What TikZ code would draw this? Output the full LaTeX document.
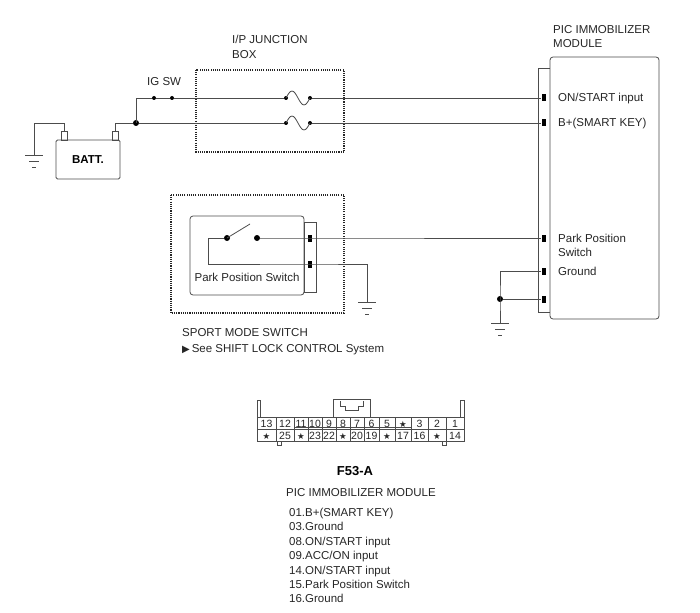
\documentclass[tikz,border=0pt]{standalone}
\usepackage{fontspec}
\setmainfont{Liberation Sans}
\newfontfamily\symfont{DejaVu Sans}
\usetikzlibrary{positioning}
\newcommand{\txtsz}{\fontsize{11.5}{14}\selectfont}
\newcommand{\cstar}{{\symfont\fontsize{8.5}{10}\selectfont ★}}

\tikzset{
  wire/.style={draw=black!70, line width=0.8pt},
  outl/.style={draw=black!70, line width=0.8pt},
  dotbox/.style={draw=black!85, line width=1.6pt, dash pattern=on 1.1pt off 1.1pt},
  term/.style={fill=black, inner sep=0pt, minimum width=4pt, minimum height=7pt},
  jdot/.style={circle, fill=black, inner sep=0pt, minimum size=6pt},
  sdot/.style={circle, fill=black, inner sep=0pt, minimum size=4pt},
  txt/.style={font=\txtsz, inner sep=0pt, anchor=base west, text=black!85},
  ctxt/.style={font=\txtsz, inner sep=0pt, anchor=base, text=black!85},
  cell/.style={font=\fontsize{10.5}{12}\selectfont, inner sep=0pt, anchor=base, text=black!85},
  earth/.pic={\draw[wire] (-9,0) -- (9,0) (-5,6) -- (5,6) (-2,12) -- (2,12);}
}

\begin{document}
\begin{tikzpicture}[x=1pt,y=-1pt]
\useasboundingbox (0,0) rectangle (700,612);

% battery
\draw[outl, rounded corners=1.5pt] (56,140) rectangle (120,179);
\draw[outl] (61,131) rectangle (67,140);
\draw[outl] (112,131) rectangle (118,140);
\node[font=\bfseries\txtsz, inner sep=0pt, anchor=base] (batt) at (88,164) {BATT.};
\coordinate (bneg) at (64,131);
\coordinate (bpos) at (115,131);
\coordinate (gc1) at (34,123);
\coordinate (gb) at (34,155);
\pic at (gb) {earth};
\draw[wire] (bneg) |- (gc1) -- (gb);

% I/P junction box
\draw[dotbox] (196,70) rectangle (344,152);
\node[txt] (jbox1) at (232,44) {I/P JUNCTION};
\node[txt] (jbox2) at (232,59) {BOX};
\node[txt] (igsw) at (147,86) {IG SW};
\node[jdot] (j1) at (136,123) {};
\node[sdot] (ig1) at (154,98) {};
\node[sdot] (ig2) at (172,98) {};
\node[sdot] (f1a) at (286,98) {};
\node[sdot] (f1b) at (310,98) {};
\node[sdot] (f2a) at (286,123) {};
\node[sdot] (f2b) at (310,123) {};
\draw[wire] (f1a.center) sin (292,91) cos (298,98) sin (304,105) cos (f1b.center);
\draw[wire] (f2a.center) sin (292,116) cos (298,123) sin (304,130) cos (f2b.center);

% PIC immobilizer module
\draw[outl] (538,68) rectangle (550,312);
\draw[outl, fill=white, rounded corners=3pt] (550,57) rectangle (659,319);
\node[txt] (pic1) at (553,34) {PIC IMMOBILIZER};
\node[txt] (pic2) at (553,48) {MODULE};
\node[term] (p-on) at (543.5,98) {};
\node[term] (p-bp) at (543.5,123) {};
\node[term] (p-pp) at (543.5,238) {};
\node[term] (p-g1) at (543.5,271) {};
\node[term] (p-g2) at (543.5,299) {};
\node[txt] (l-on) at (558,102) {ON/START input};
\node[txt] (l-bp) at (558,127) {B+(SMART KEY)};
\node[txt] (l-pp1) at (558,242) {Park Position};
\node[txt] (l-pp2) at (558,256) {Switch};
\node[txt] (l-g) at (558,275) {Ground};

% wiring
\draw[wire] (bpos) |- (j1) -- (f2a);
\draw[wire] (f2b) -- (p-bp.west);
\draw[wire] (j1.center) |- (ig1) -- (ig2) -- (f1a);
\draw[wire] (f1b) -- (p-on.west);

\node[jdot] (j2) at (500,299) {};
\coordinate (gm) at (500,323);
\pic at (gm) {earth};
\draw[wire] (p-g1.west) -| (j2.center) -- (gm);
\draw[wire] (j2) -- (p-g2.west);

% sport mode switch
\draw[dotbox] (171,195) rectangle (344,313);
\draw[outl, rounded corners=3pt] (190,216) rectangle (304,295);
\draw[outl] (304,222) rectangle (316,292);
\node[term] (s1) at (310,238) {};
\node[term] (s2) at (310,264) {};
\node[jdot] (swa) at (227,238) {};
\node[jdot] (swb) at (257,238) {};
\coordinate (sw0) at (208,238);
\coordinate (sw1) at (208,264);
\coordinate (swt) at (250,224);
\coordinate (gs) at (367,302);
\pic at (gs) {earth};
\draw[wire] (swa.center) -- (swt);
\draw[wire] (swa) -- (sw0) -- (sw1) -- (s2.center) -| (gs);
\draw[wire] (swb) -- (s1.center) -- (p-pp.west);
\node[ctxt] (ppsw) at (247,281) {Park Position Switch};
\node[txt] (sport1) at (182,336) {SPORT MODE SWITCH};
\node[txt] (sport2) at (182,352) {{\symfont\fontsize{10}{12}\selectfont ▶}\,See SHIFT LOCK CONTROL System};

% connector F53-A
\draw[outl] (257,417) rectangle (464,441);
\draw[outl] (257,429) -- (464,429);
\draw[outl] (294,427) -- (411,427);
\draw[outl] (257,417) |- (260.5,400) -- (260.5,417);
\draw[outl] (464,417) |- (460.5,400) -- (460.5,417);
\draw[outl] (333,417) |- (370,399) -- (370,417);
\draw[outl] (340,401) |- (345,406) |- (358,410) |- (363,406) -- (363,401);
\draw[outl] (277,441) |- (281,445) -- (281,441);
\draw[outl] (442,441) |- (446,445) -- (446,441);
\foreach \a/\b/\t/\u [count=\i] in {257/276/13/\cstar, 276/294/12/25, 294/308/11/\cstar,
    308/322/10/23, 322/336/9/22, 336/350/8/\cstar, 350/364/7/20, 364/379/6/19,
    379/395/5/\cstar, 395/411/\cstar/17, 411/428/3/16, 428/446/2/\cstar, 446/464/1/14}
{
  \ifnum\i>1 \draw[outl] (\a,417) -- (\a,441); \fi
  \node[cell] (ct\i) at ({(\a+\b)/2},427) {\t};
  \node[cell] (cb\i) at ({(\a+\b)/2},439) {\u};
}
\node[font=\bfseries\fontsize{13}{15}\selectfont, inner sep=0pt, anchor=base] (f53) at (355,475) {F53-A};
\node[txt] (mod) at (286,496) {PIC IMMOBILIZER MODULE};
\foreach \s [count=\i from 0] in {01.B+(SMART KEY), 03.Ground, 08.ON/START input,
    09.ACC/ON input, 14.ON/START input, 15.Park Position Switch, 16.Ground}
  \node[txt] (pin\i) at (289,{516.5+14.4*\i}) {\s};
\end{tikzpicture}
\end{document}
